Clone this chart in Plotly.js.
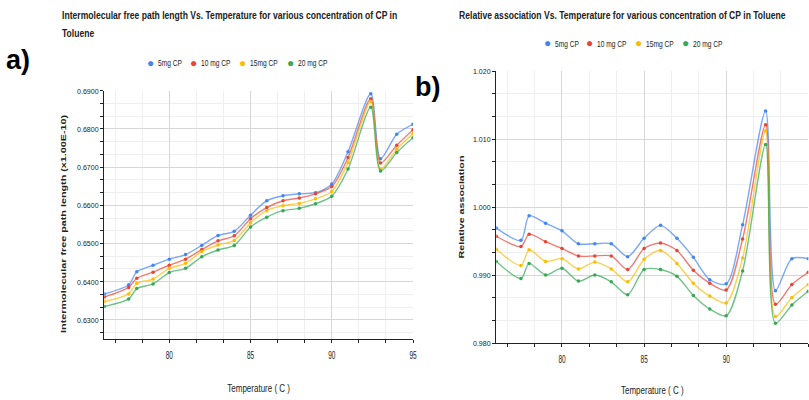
<!DOCTYPE html>
<html>
<head>
<meta charset="utf-8">
<script src="https://cdn.plot.ly/plotly-3.0.1.min.js"></script>
<style>html,body{margin:0;padding:0;background:#fff;}#chart{width:809px;height:400px;}</style>
</head>
<body>
<div id="chart"></div>
<script>
// ---- data ----
var temperature = [76, 77.5, 78, 79, 80, 81, 82, 83, 84, 85, 86, 87, 88, 89, 90, 91, 92.4, 93, 94, 95];
var seriesNames = ["5mg CP", "10 mg CP", "15mg CP", "20 mg CP"];
var seriesColors = ["#4285F4", "#EA4335", "#FBBC04", "#34A853"];

// a) Intermolecular free path length (x1.00E-10)
var lf5  = [0.6368, 0.6392, 0.6426, 0.6443, 0.6459, 0.6471, 0.6495, 0.6521, 0.6532, 0.6574, 0.6612, 0.6625, 0.6630, 0.6633, 0.6656, 0.6740, 0.6892, 0.6722, 0.6786, 0.6812];
var lf10 = [0.6360, 0.6385, 0.6409, 0.6425, 0.6443, 0.6459, 0.6484, 0.6507, 0.6520, 0.6565, 0.6594, 0.6612, 0.6619, 0.6630, 0.6649, 0.6725, 0.6879, 0.6711, 0.6757, 0.6798];
var lf15 = [0.6348, 0.6368, 0.6396, 0.6407, 0.6435, 0.6448, 0.6479, 0.6496, 0.6508, 0.6554, 0.6586, 0.6599, 0.6605, 0.6617, 0.6636, 0.6712, 0.6872, 0.6695, 0.6747, 0.6788];
var lf20 = [0.6335, 0.6355, 0.6382, 0.6394, 0.6424, 0.6435, 0.6465, 0.6483, 0.6495, 0.6543, 0.6569, 0.6586, 0.6592, 0.6604, 0.6624, 0.6695, 0.6857, 0.6690, 0.6738, 0.6777];

// b) Relative association
var ra5  = [0.9969, 0.9951, 0.9987, 0.9976, 0.9965, 0.9946, 0.9946, 0.9946, 0.9927, 0.9954, 0.9973, 0.9954, 0.9926, 0.9893, 0.9887, 0.9974, 1.0141, 0.9877, 0.9924, 0.9924];
var ra10 = [0.9957, 0.9942, 0.9960, 0.9949, 0.9939, 0.9928, 0.9928, 0.9928, 0.9908, 0.9939, 0.9947, 0.9936, 0.9907, 0.9888, 0.9878, 0.9953, 1.0121, 0.9857, 0.9886, 0.9904];
var ra15 = [0.9938, 0.9914, 0.9937, 0.9920, 0.9924, 0.9909, 0.9919, 0.9909, 0.9890, 0.9923, 0.9936, 0.9917, 0.9888, 0.9869, 0.9859, 0.9925, 1.0112, 0.9839, 0.9867, 0.9886];
var ra20 = [0.9920, 0.9895, 0.9917, 0.9900, 0.9910, 0.9891, 0.9900, 0.9890, 0.9871, 0.9908, 0.9908, 0.9898, 0.9870, 0.9850, 0.9840, 0.9906, 1.0092, 0.9829, 0.9856, 0.9876];

var xTickVals = [80, 85, 90, 95];
var titleA1 = "Intermolecular free path length Vs. Temperature for various concentration of CP in";
var titleA2 = "Toluene";
var titleB = "Relative association Vs. Temperature for various concentration of CP in Toluene";
var yTitleA = "Intermolecular free path length (x1.00E-10)";
var yTitleB = "Relative association";
var xTitle = "Temperature ( C )";

// ---- build ----
var SANS = "Liberation Sans, Arial, sans-serif";
var W = 809, H = 400;
function px(x){ return x / W; }
function py(y){ return 1 - y / H; }
function hexToRgba(h, a){
  var r = parseInt(h.substr(1,2),16), g = parseInt(h.substr(3,2),16), b = parseInt(h.substr(5,2),16);
  return "rgba(" + r + "," + g + "," + b + "," + a + ")";
}

var setsA = [lf5, lf10, lf15, lf20];
var setsB = [ra5, ra10, ra15, ra20];
var traces = [];
function addTraces(sets, xa, ya){
  sets.forEach(function(ys, i){
    traces.push({x: temperature, y: ys, xaxis: xa, yaxis: ya, type: "scatter", mode: "lines+markers",
      name: seriesNames[i], showlegend: false, hoverinfo: "x+y",
      line: {color: hexToRgba(seriesColors[i], 0.7), width: 1.4, shape: "spline", smoothing: 0.8},
      marker: {color: seriesColors[i], size: 3.5}});
  });
}
addTraces(setsA, "x", "y");
addTraces(setsB, "x2", "y2");

function xAxis(domain, anchor, standoff){
  return {domain: domain, anchor: anchor, range: [76, 95], tickvals: xTickVals, ticktext: xTickVals.map(String),
    showgrid: true, gridcolor: "#d6d6d6", gridwidth: 1,
    showline: true, linecolor: "#222", linewidth: 1.2, zeroline: false,
    ticks: "outside", ticklen: 3, tickcolor: "#222", ticklabelstandoff: 4,
    tickfont: {family: SANS, size: 10, color: "#222"},
    minor: {dtick: 5/3, tick0: 0, showgrid: true, gridcolor: "#eeeeee", ticks: "outside", ticklen: 3, tickcolor: "#222"},
    title: {text: xTitle, font: {family: SANS, size: 10, color: "#222"}, standoff: standoff},
    fixedrange: true};
}
function yAxis(domain, anchor, range, dtick, fmt, title, standoff){
  return {domain: domain, anchor: anchor, range: range, dtick: dtick, tick0: 0, tickformat: fmt,
    showgrid: true, gridcolor: "#d6d6d6", gridwidth: 1,
    showline: true, linecolor: "#222", linewidth: 1.2, zeroline: false,
    ticks: "outside", ticklen: 3, tickcolor: "#222",
    tickfont: {family: SANS, size: 8, color: "#222"},
    minor: {dtick: dtick/3, tick0: 0, showgrid: true, gridcolor: "#eeeeee", ticks: "outside", ticklen: 3, tickcolor: "#222"},
    title: {text: title, font: {family: SANS, size: 8.5, color: "#222", weight: "bold"}, standoff: standoff},
    fixedrange: true};
}

var annotations = [];
var annScale = [];
function addAnn(text, xp, yp, xanchor, font, k){
  annotations.push({text: text, x: px(xp), y: py(yp), xanchor: xanchor, yanchor: "middle",
    xref: "paper", yref: "paper", showarrow: false, font: font});
  annScale.push(k);
}
var titleFont = {family: SANS, size: 11, color: "#222", weight: "bold"};
addAnn(titleA1, 60, 15, "left", titleFont, 0.78);
addAnn(titleA2, 60, 33, "left", titleFont, 0.78);
addAnn(titleB, 457, 15, "left", titleFont, 0.78);
addAnn("a)", 18, 60, "center", {family: SANS, size: 27, color: "#000", weight: "bold"}, 1);
addAnn("b)", 427, 87, "center", {family: SANS, size: 27, color: "#000", weight: "bold"}, 1);
// legends (one per chart): coloured dot + label
var legendA = [150, 193, 242, 290];
var legendB = [547, 589, 638, 685];
function legendItems(xs, yPix){
  xs.forEach(function(xp, i){
    addAnn("\u25CF", xp, yPix, "center", {family: SANS, size: 12, color: seriesColors[i]}, 1);
    addAnn(seriesNames[i], xp + 6, yPix, "left", {family: SANS, size: 9.5, color: "#222"}, 0.7);
  });
}
legendItems(legendA, 63);
legendItems(legendB, 43);

var layout = {
  width: W, height: H, margin: {l: 0, r: 0, t: 0, b: 0},
  paper_bgcolor: "#fff", plot_bgcolor: "#fff", showlegend: false,
  font: {family: SANS, color: "#222"},
  xaxis: xAxis([px(104.3), px(413)], "y", 24),
  yaxis: yAxis([py(339), py(90.7)], "x", [0.625, 0.69], 0.01, ".4f", yTitleA, 5),
  xaxis2: xAxis([px(496.3), px(808.3)], "y2", 22),
  yaxis2: yAxis([py(343), py(71)], "x2", [0.98, 1.02], 0.01, ".3f", yTitleB, 4),
  annotations: annotations
};

// narrow the glyphs (the reference uses a condensed face) around a chosen anchor
function condense(el, kx, ky, mode, dy){
  var bb = el.getBBox();
  var ox = mode === "start" ? bb.x : (mode === "end" ? bb.x + bb.width : bb.x + bb.width / 2);
  var oy = bb.y + bb.height / 2;
  var t = el.getAttribute("transform") || "";
  var pre = dy ? "translate(0," + dy + ") " : "";
  el.setAttribute("transform", pre + t + " translate(" + ox + "," + oy + ") scale(" + kx + "," + ky + ") translate(" + (-ox) + "," + (-oy) + ")");
}

Plotly.newPlot("chart", traces, layout, {displayModeBar: false, staticPlot: true}).then(function(gd){
  gd.querySelectorAll("g.annotation").forEach(function(g){
    var i = +g.getAttribute("data-index");
    var k = annScale[i];
    var t = g.querySelector("text");
    if (t && k !== 1) condense(t, k, 1, layout.annotations[i].xanchor === "left" ? "start" : "middle", 0);
  });
  gd.querySelectorAll("g.xtick text, g.x2tick text").forEach(function(t){ condense(t, 0.65, 1, "middle", 0); });
  gd.querySelectorAll("g.ytick text, g.y2tick text").forEach(function(t){ condense(t, 0.88, 1, "end", 0); });
  gd.querySelectorAll("text.xtitle, text.x2title").forEach(function(t){ condense(t, 0.8, 1, "middle", 0); });
  var ya = gd.querySelector("text.ytitle");
  if (ya) condense(ya, 1.27, 0.85, "middle", 9);
  var yb = gd.querySelector("text.y2title");
  if (yb) condense(yb, 1.26, 0.85, "middle", 0);
});
</script>
</body>
</html>
